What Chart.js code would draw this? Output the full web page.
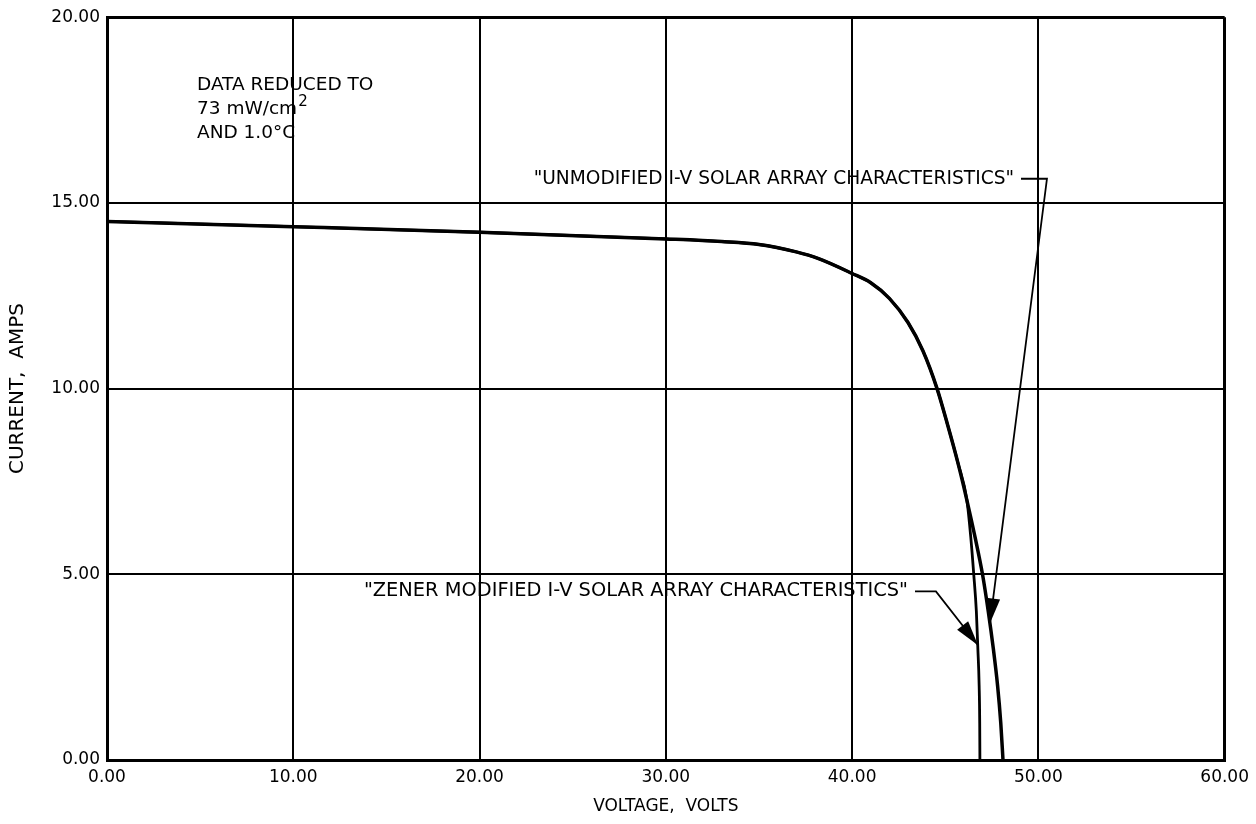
<!DOCTYPE html>
<html>
<head>
<meta charset="utf-8">
<script src="https://cdn.jsdelivr.net/npm/chart.js@4.4.1/dist/chart.umd.min.js"></script>
<style>
  html, body { margin: 0; padding: 0; background: #fff; }
</style>
</head>
<body>
<canvas id="ivChart" width="1256" height="824"></canvas>
<script>
// Solar array I-V characteristics, volts vs amps
const voltsUnmodified = [0, 10, 20, 30, 33, 35, 37, 38.2, 40, 41, 42, 43, 43.8, 44.56, 45.14, 45.68, 46.16, 46.6, 47.0, 47.31, 47.58, 47.81, 47.98, 48.1];
const ampsUnmodified  = [14.5, 14.36, 14.21, 14.03, 13.96, 13.88, 13.68, 13.5, 13.1, 12.85, 12.43, 11.78, 11.02, 10.0, 9.0, 8.0, 7.0, 6.0, 5.0, 4.0, 3.0, 2.0, 1.0, 0];

// zener clamp pulls the tail in below about 7 A
const voltsZener = [0, 10, 20, 30, 33, 35, 37, 38.2, 40, 41, 42, 43, 43.8, 44.56, 45.14, 45.68, 46.16, 46.37, 46.53, 46.67, 46.75, 46.82, 46.85, 46.86];
const ampsZener  = [14.5, 14.36, 14.21, 14.03, 13.96, 13.88, 13.68, 13.5, 13.1, 12.85, 12.43, 11.78, 11.02, 10.0, 9.0, 8.0, 7.0, 6.0, 5.0, 4.0, 3.0, 2.0, 1.0, 0];

const voltTicks = [0, 10, 20, 30, 40, 50, 60];
const ampTicks = [0, 5, 10, 15, 20];

const FONT = '"DejaVu Sans", Verdana, sans-serif';
Chart.defaults.font.family = FONT;
Chart.defaults.color = '#000';

const toPoints = (xs, ys) => xs.map((v, i) => ({ x: v, y: ys[i] }));

// labels, leader lines and arrows, placed in data units
const annotations = {
  id: 'annotations',
  afterDatasetsDraw(chart) {
    const { ctx, scales: { x, y } } = chart;
    const px = v => x.getPixelForValue(v);
    const py = a => y.getPixelForValue(a);

    ctx.save();
    ctx.fillStyle = '#000';
    ctx.strokeStyle = '#000';

    // conditions note
    ctx.font = '18.5px ' + FONT;
    ctx.textAlign = 'left';
    ctx.textBaseline = 'alphabetic';
    const nx = px(4.83);
    ctx.fillText('DATA REDUCED TO', nx, py(18.04));
    ctx.fillText('73 mW/cm', nx, py(17.39));
    const w = ctx.measureText('73 mW/cm').width;
    ctx.fillText('AND 1.0\u00B0C', nx, py(16.75));
    ctx.font = '15px ' + FONT;
    ctx.fillText('2', nx + w + 1, py(17.39) - 8);

    const arrow = (x0, y0, x1, y1) => {
      const ang = Math.atan2(y1 - y0, x1 - x0);
      const len = 25, half = 7;
      const bx = x1 - len * Math.cos(ang), by = y1 - len * Math.sin(ang);
      ctx.beginPath();
      ctx.moveTo(x1, y1);
      ctx.lineTo(bx + half * Math.sin(ang), by - half * Math.cos(ang));
      ctx.lineTo(bx - half * Math.sin(ang), by + half * Math.cos(ang));
      ctx.closePath();
      ctx.fill();
    };

    const callout = (text, size, textEnd, level, corner, tip) => {
      ctx.font = size + 'px ' + FONT;
      ctx.textAlign = 'right';
      ctx.textBaseline = 'middle';
      ctx.fillText(text, px(textEnd), py(level));
      ctx.lineWidth = 1.8;
      ctx.beginPath();
      ctx.moveTo(px(textEnd) + 7, py(level));
      ctx.lineTo(px(corner), py(level));
      ctx.lineTo(px(tip[0]), py(tip[1]));
      ctx.stroke();
      arrow(px(corner), py(level), px(tip[0]), py(tip[1]));
    };

    callout('"UNMODIFIED I-V SOLAR ARRAY CHARACTERISTICS"', 18.6, 48.69, 15.65, 50.46, [47.4, 3.68]);
    callout('"ZENER MODIFIED I-V SOLAR ARRAY CHARACTERISTICS"', 19.4, 43.0, 4.54, 44.5, [46.76, 3.09]);

    ctx.restore();
  }
};

new Chart(document.getElementById('ivChart'), {
  type: 'line',
  data: {
    datasets: [
      {
        label: 'Zener modified',
        data: toPoints(voltsZener, ampsZener),
        borderColor: '#000',
        borderWidth: 2.8,
        pointRadius: 0,
        cubicInterpolationMode: 'monotone'
      },
      {
        label: 'Unmodified',
        data: toPoints(voltsUnmodified, ampsUnmodified),
        borderColor: '#000',
        borderWidth: 3.5,
        pointRadius: 0,
        cubicInterpolationMode: 'monotone'
      }
    ]
  },
  options: {
    responsive: false,
    animation: false,
    devicePixelRatio: 1,
    layout: { padding: { top: 16, right: 30, bottom: 0, left: 0 } },
    plugins: { legend: { display: false }, tooltip: { enabled: false } },
    scales: {
      x: {
        type: 'linear',
        min: voltTicks[0],
        max: voltTicks[voltTicks.length - 1],
        afterBuildTicks: s => { s.ticks = voltTicks.map(v => ({ value: v })); },
        afterFit: s => { s.height = 64; },
        ticks: { callback: v => v.toFixed(2), font: { size: 17 }, padding: 7, maxRotation: 0 },
        grid: { color: '#000', lineWidth: c => (c.tick && c.tick.value === 60 ? 3 : 2), drawTicks: false },
        border: { color: '#000', width: 3 },
        title: { display: true, text: 'VOLTAGE,  VOLTS', font: { size: 17 }, padding: { bottom: 7 } }
      },
      y: {
        type: 'linear',
        min: ampTicks[0],
        max: ampTicks[ampTicks.length - 1],
        afterBuildTicks: s => { s.ticks = ampTicks.map(v => ({ value: v })); },
        afterFit: s => { s.width = 107; },
        ticks: { callback: v => v.toFixed(2), font: { size: 17 }, padding: 7 },
        grid: { color: '#000', lineWidth: c => (c.tick && c.tick.value === 20 ? 3 : 2), drawTicks: false },
        border: { color: '#000', width: 3 },
        title: { display: true, text: 'CURRENT,  AMPS', font: { size: 20 }, padding: { top: 6 } }
      }
    }
  },
  plugins: [annotations]
});
</script>
</body>
</html>
